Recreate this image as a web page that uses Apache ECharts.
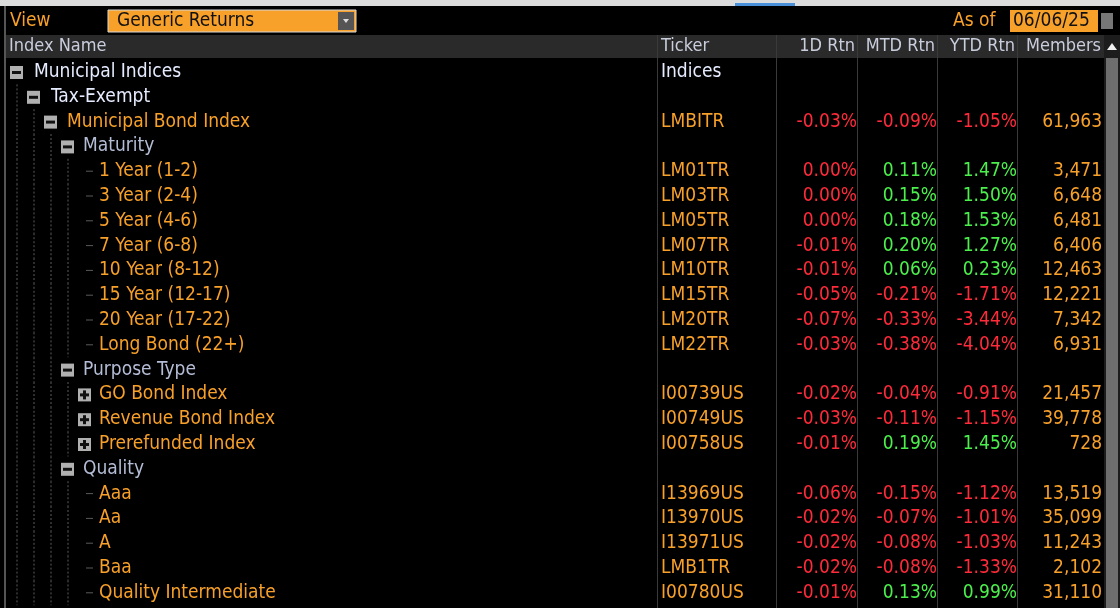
<!DOCTYPE html><html><head><meta charset="utf-8">
<script src="https://cdn.jsdelivr.net/npm/echarts@6/dist/echarts.min.js"></script>
<style>html,body{margin:0;background:#000}#c{width:1120px;height:608px}</style></head><body><div id="c"></div>
<script>
const names=["Municipal Indices","Tax-Exempt","Municipal Bond Index","Maturity","1 Year (1-2)","3 Year (2-4)","5 Year (4-6)","7 Year (6-8)","10 Year (8-12)","15 Year (12-17)","20 Year (17-22)","Long Bond (22+)","Purpose Type","GO Bond Index","Revenue Bond Index","Prerefunded Index","Quality","Aaa","Aa","A","Baa","Quality Intermediate"];
const levels=[0,1,2,3,4,4,4,4,4,4,4,4,3,4,4,4,3,4,4,4,4,4];
const nodeTypes=["minus","minus","minus","minus","leaf","leaf","leaf","leaf","leaf","leaf","leaf","leaf","minus","plus","plus","plus","minus","leaf","leaf","leaf","leaf","leaf"];
const tickers=["Indices","","LMBITR","","LM01TR","LM03TR","LM05TR","LM07TR","LM10TR","LM15TR","LM20TR","LM22TR","","I00739US","I00749US","I00758US","","I13969US","I13970US","I13971US","LMB1TR","I00780US"];
const rtn1D=[null,null,-0.03,null,0.00,0.00,0.00,-0.01,-0.01,-0.05,-0.07,-0.03,null,-0.02,-0.03,-0.01,null,-0.06,-0.02,-0.02,-0.02,-0.01];
const rtnMTD=[null,null,-0.09,null,0.11,0.15,0.18,0.20,0.06,-0.21,-0.33,-0.38,null,-0.04,-0.11,0.19,null,-0.15,-0.07,-0.08,-0.08,0.13];
const rtnYTD=[null,null,-1.05,null,1.47,1.50,1.53,1.27,0.23,-1.71,-3.44,-4.04,null,-0.91,-1.15,1.45,null,-1.12,-1.01,-1.03,-1.33,0.99];
const members=[null,null,"61,963",null,"3,471","6,648","6,481","6,406","12,463","12,221","7,342","6,931",null,"21,457","39,778","728",null,"13,519","35,099","11,243","2,102","31,110"];
const headers=["Index Name","Ticker","1D Rtn","MTD Rtn","YTD Rtn","Members"];

const ORANGE="#f7a02a",GREEN="#4cf04c",RED="#ff2a3a",HDR="#c9cddc",FONT="19px 'DejaVu Sans Condensed','Noto Sans',sans-serif",HFONT="18px 'DejaVu Sans Condensed','Noto Sans',sans-serif";
const iconX=[10,27,44,61,78], textX=[34,51,67,83,99];
function nameColor(i){const l=levels[i];if(l===0||l===1)return "#e6ecff";if(l===3&&nodeTypes[i]==="minus")return "#b4bdd6";return ORANGE;}
function rc(v){return v===null?null:(v>0?GREEN:RED);}
const rows=names.map((n,i)=>[0,i]);
const chart=echarts.init(document.getElementById('c'));
chart.setOption({
 backgroundColor:"#000",animation:false,
 grid:{left:0,right:0,top:59.6,bottom:2.8},
 xAxis:{type:'value',min:0,max:1120,show:false},
 yAxis:{type:'category',data:names,inverse:true,show:false},
 graphic:[
  {type:'rect',shape:{x:0,y:0,width:1120,height:6},style:{fill:'#dcdcdc'}},
  {type:'rect',shape:{x:735,y:3,width:60,height:3},style:{fill:'#4a90d9'}},
  {type:'rect',shape:{x:4,y:6,width:2,height:602},style:{fill:'#555'}},
  {type:'text',x:10,y:21,style:{text:'View',fill:ORANGE,font:FONT,verticalAlign:'middle'}},
  {type:'rect',shape:{x:108,y:10,width:248,height:22},style:{fill:'#f7a02a',stroke:'#d8d8d8',lineWidth:1}},
  {type:'text',x:117,y:21,style:{text:'Generic Returns',fill:'#111',font:FONT,verticalAlign:'middle'}},
  {type:'rect',shape:{x:338,y:12,width:16,height:18},style:{fill:'#555'}},
  {type:'polygon',shape:{points:[[343,19],[349,19],[346,23]]},style:{fill:'#ddd'}},
  {type:'text',x:953,y:21,style:{text:'As of',fill:ORANGE,font:FONT,verticalAlign:'middle'}},
  {type:'rect',shape:{x:1010,y:10,width:88,height:22},style:{fill:'#f7a02a'}},
  {type:'text',x:1013,y:21,style:{text:'06/06/25',fill:'#111',font:FONT,verticalAlign:'middle'}},
  {type:'rect',shape:{x:1101,y:13,width:12,height:16},style:{fill:'#777'}},
  {type:'rect',shape:{x:6,y:35,width:1098,height:23},style:{fill:'#2a2a2a'}},
  {type:'text',x:9,y:46,style:{text:headers[0],fill:HDR,font:HFONT,verticalAlign:'middle'}},
  {type:'text',x:661,y:46,style:{text:headers[1],fill:HDR,font:HFONT,verticalAlign:'middle'}},
  {type:'text',x:855,y:46,style:{text:headers[2],fill:HDR,font:HFONT,verticalAlign:'middle',align:'right'}},
  {type:'text',x:935,y:46,style:{text:headers[3],fill:HDR,font:HFONT,verticalAlign:'middle',align:'right'}},
  {type:'text',x:1015,y:46,style:{text:headers[4],fill:HDR,font:HFONT,verticalAlign:'middle',align:'right'}},
  {type:'text',x:1101,y:46,style:{text:headers[5],fill:HDR,font:HFONT,verticalAlign:'middle',align:'right'}},
  ...[657,776,857,937,1017].map(x=>({type:'rect',shape:{x:x,y:35,width:1,height:573},style:{fill:'#3a3a3a'}})),
  {type:'rect',shape:{x:1104,y:35,width:16,height:573},style:{fill:'#1c1c1c'}},
  {type:'rect',shape:{x:1106,y:58,width:12,height:550},style:{fill:'#6e6e6e'}},
  {type:'polygon',shape:{points:[[1107,50],[1117,50],[1112,43]]},style:{fill:'#eee'}}
 ],
 series:[{type:'custom',data:rows,clip:false,renderItem:function(params,api){
  const i=api.value(1);const p=api.coord([0,i]);const y=p[1];const h=api.size([0,1])[1];
  const ch=[];const l=levels[i];
  for(let k=0;k<l;k++){
    const gx=iconX[k]+7;
    ch.push({type:'line',shape:{x1:gx,y1:y-h/2,x2:gx,y2:y+h/2},style:{stroke:'#5a5a5a',lineWidth:1,lineDash:[2,2]}});
  }
  if(nodeTypes[i]==='leaf'){
    ch.push({type:'line',shape:{x1:iconX[l]+8,y1:y,x2:iconX[l]+15,y2:y},style:{stroke:'#5a5a5a',lineWidth:1}});
  } else {
    ch.push({type:'rect',shape:{x:iconX[l],y:y-6,width:13,height:13},style:{fill:'#b0b0b0'}});
    ch.push({type:'rect',shape:{x:iconX[l]+2,y:y-1,width:9,height:3},style:{fill:'#111'}});
    if(nodeTypes[i]==='plus')ch.push({type:'rect',shape:{x:iconX[l]+5,y:y-4,width:3,height:9},style:{fill:'#111'}});
  }
  ch.push({type:'text',x:textX[l],y:y,style:{text:names[i],fill:nameColor(i),font:FONT,verticalAlign:'middle'}});
  if(tickers[i])ch.push({type:'text',x:661,y:y,style:{text:tickers[i],fill:i===0?'#e6ecff':ORANGE,font:FONT,verticalAlign:'middle'}});
  [[rtn1D,857],[rtnMTD,937],[rtnYTD,1017]].forEach(([a,x])=>{
    if(a[i]!==null)ch.push({type:'text',x:x,y:y,style:{text:a[i].toFixed(2)+'%',fill:rc(a[i]),font:FONT,verticalAlign:'middle',align:'right'}});
  });
  if(members[i])ch.push({type:'text',x:1102,y:y,style:{text:members[i],fill:ORANGE,font:FONT,verticalAlign:'middle',align:'right'}});
  return {type:'group',children:ch};
 }}]
});
</script></body></html>
